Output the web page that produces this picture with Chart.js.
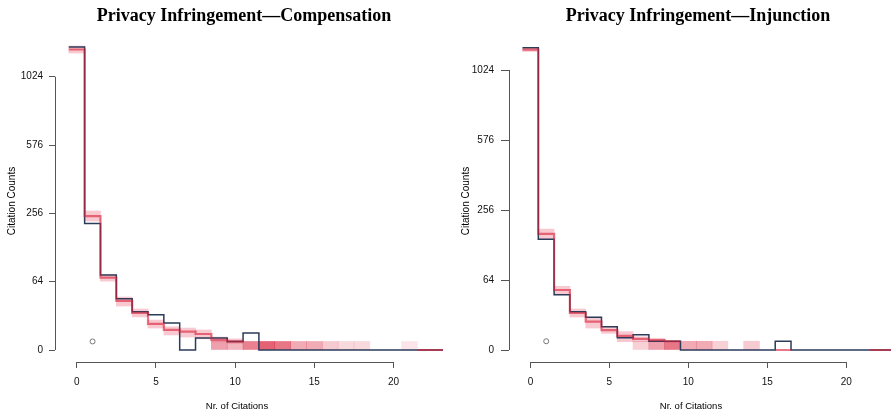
<!DOCTYPE html>
<html><head><meta charset="utf-8">
<script src="https://cdn.jsdelivr.net/npm/chart.js@4.4.1/dist/chart.umd.min.js"></script>
<style>
html,body{margin:0;padding:0;background:#fff;width:896px;height:414px;overflow:hidden;position:relative;font-family:"Liberation Sans",Arial,sans-serif;color:#000}
.panel{position:absolute;top:0;width:448px;height:414px}
.title{position:absolute;top:5px;line-height:20px;font:bold 18px "Liberation Serif","Times New Roman",serif;white-space:nowrap;transform:translateX(-50%)}
.xt{position:absolute;top:400px;line-height:11px;font-size:9.5px;white-space:nowrap;transform:translateX(-50%)}
</style></head>
<body>
<div class="panel" style="left:0"><canvas id="c1" width="448" height="414"></canvas></div>
<div class="panel" style="left:448px"><canvas id="c2" width="448" height="414"></canvas></div>
<div class="title" style="left:244px">Privacy Infringement—Compensation</div>
<div class="title" style="left:698px">Privacy Infringement—Injunction</div>
<div class="xt" style="left:237px">Nr. of Citations</div>
<div class="xt" style="left:691px">Nr. of Citations</div>
<script>
// ---- data ----
const bins = [0,1,2,3,4,5,6,7,8,9,10,11,12,13,14,15,16,17,18,19,20,21,22,23];
const xTickValues = [0,5,10,15,20];
const yTickCounts = [0,64,256,576,1024];

// Compensation
const compObserved = [1259,219,77,36,20,17,10,0,2,2,1,4,0,0,0,0,0,0,0,0,0,0,0,0];
const compPredMid  = [1238,246,72,33,19,9.3,5.5,4.6,3.5,1.4,1,null,null,null,null,null,null,null,null,null,null,null,0,0];
const compPredLo   = [1209,228,65,26.5,15,6.6,3.1,2.3,1.7,0.9,0.6,null,null,null,null,null,null,null,null,null,null,null,null,null];
const compPredHi   = [1267,265,78,38.5,23,12.3,7.4,6.6,5.5,2.3,1.7,null,null,null,null,null,null,null,null,null,null,null,null,null];
const compTailShare= [0,0,0,0,0,0,0,0,0,0.45,0.35,0.6,0.75,0.65,0.4,0.4,0.25,0.18,0.18,0,0,0.12,0,0];

// Injunction
const injObserved = [1194,160,40,19,14,7,2,3,1,1,0,0,0,0,0,0,1,0,0,0,0,0,0,0];
const injPredMid  = [1179,176,47,17.9,10.5,5.2,2.6,1.6,1.3,1,null,null,null,null,null,null,0,null,null,null,null,null,0,0];
const injPredLo   = [1164,161,41,14.2,6.3,3.6,0.9,0.9,0.9,null,null,null,null,null,null,null,null,null,null,null,null,null,null,null];
const injPredHi   = [1195,191,53,22,13.4,7.1,4.4,2.3,1.8,null,null,null,null,null,null,null,null,null,null,null,null,null,null,null];
const injTailShare= [0,0,0,0,0,0,0,0.22,0.45,0.65,0.4,0.4,0.22,0,0.25,0,0,0,0,0,0,0,0,0];

// marker point (x, count)
const markerPoint = {x:1, count:1};

// ---- helpers ----
const rt = v => Math.sqrt(v);
function stepPoints(vals){
  const pts=[];
  bins.forEach((b,i)=>{
    const v = vals[i];
    if (v===null || v===undefined){ pts.push({x:b, y:null}); }
    else { pts.push({x:b-0.5, y:rt(v)}); pts.push({x:b+0.5, y:rt(v)}); }
  });
  return pts;
}
function bandBars(lo, hi){
  const pts=[];
  bins.forEach((b,i)=>{ if(lo[i]!==null && hi[i]!==null) pts.push({x:b, y:[rt(lo[i]), rt(hi[i])]}); });
  return pts;
}

Chart.defaults.font.family = '"Liberation Sans", Arial, sans-serif';
Chart.defaults.font.size = 10;
Chart.defaults.color = '#111';

const axisLines = {
  id:'axisLines',
  afterDraw(chart){
    const {ctx, chartArea, scales:{x,y}} = chart;
    ctx.save();
    ctx.strokeStyle = '#555'; ctx.lineWidth = 1;
    const lx = Math.round(chartArea.left)+0.5;
    const by = Math.round(chartArea.bottom)+0.5;
    ctx.beginPath();
    ctx.moveTo(lx, y.getPixelForValue(rt(yTickCounts[0])));
    ctx.lineTo(lx, y.getPixelForValue(rt(yTickCounts[yTickCounts.length-1])));
    ctx.moveTo(x.getPixelForValue(xTickValues[0]), by);
    ctx.lineTo(x.getPixelForValue(xTickValues[xTickValues.length-1]), by);
    ctx.stroke();
    ctx.restore();
  }
};

function makeChart(id, obs, mid, lo, hi, share, cfg){
  return new Chart(document.getElementById(id), {
    data: {
      datasets: [
        { type:'line', label:'predicted', data: stepPoints(mid), borderColor:'rgba(215,30,55,0.6)', borderWidth:2.2,
          pointRadius:0, fill:false, tension:0, spanGaps:false, order:0 },
        { type:'line', label:'observed', data: stepPoints(obs), borderColor:'#2b3b5a', borderWidth:1.5,
          pointRadius:0, fill:false, tension:0, order:1 },
        { type:'line', label:'marker', data:[{x:markerPoint.x, y:rt(markerPoint.count)}], showLine:false,
          pointRadius:2.5, pointBorderWidth:1, pointBorderColor:'#777', pointBackgroundColor:'rgba(0,0,0,0)', order:2 },
        { type:'bar', label:'band', data: bandBars(lo, hi), backgroundColor:'rgba(230,60,85,0.28)', borderWidth:0,
          grouped:false, barPercentage:1, categoryPercentage:1, order:3 },
        { type:'bar', label:'tail', data: bins.map(b=>({x:b, y:[0,1]})), backgroundColor: share.map(s=>'rgba(218,45,70,'+s+')'),
          borderWidth:0, grouped:false, barPercentage:1, categoryPercentage:1, order:4 }
      ]
    },
    options: {
      responsive:false, animation:false,
      layout:{padding:{top:40,left:0,right:0,bottom:0}},
      plugins:{legend:{display:false}, tooltip:{enabled:false}, title:{display:false}},
      scales:{
        x:{ type:'linear', min:cfg.xmin, max:cfg.xmax, offset:false,
            grid:{offset:false, drawOnChartArea:false, drawTicks:true, tickLength:6, color:'#555'},
            border:{display:false},
            ticks:{autoSkip:false, maxRotation:0, padding:8, color:'#111', font:{size:10}},
            afterBuildTicks: s => { s.ticks = xTickValues.map(v=>({value:v})); },
            afterFit: s => { s.height = 52; } },
        y:{ type:'linear', min:cfg.ymin, max:cfg.ymax,
            title:{display:true, text:'Citation Counts', color:'#000', font:{size:10}, padding:{top:cfg.tp, bottom:0}},
            grid:{drawOnChartArea:false, drawTicks:true, tickLength:cfg.tick, color:'#555'},
            border:{display:false},
            ticks:{autoSkip:false, padding:cfg.pad, color:'#111', font:{size:10},
                   callback:(v,i)=>String(yTickCounts[i])},
            afterBuildTicks: s => { s.ticks = yTickCounts.map(c=>({value:rt(c)})); },
            afterFit: s => { s.width = cfg.yw; } }
      }
    },
    plugins:[axisLines]
  });
}

makeChart('c1', compObserved, compPredMid, compPredLo, compPredHi, compTailShare,
  {xmin:-1.37, xmax:23.12, ymin:-1.405, ymax:36.3, yw:55, tick:6, pad:6, tp:6});
makeChart('c2', injObserved, injPredMid, injPredLo, injPredHi, injTailShare,
  {xmin:-1.356, xmax:22.83, ymin:-1.371, ymax:35.43, yw:61, tick:8, pad:7, tp:12});
</script>
</body></html>
